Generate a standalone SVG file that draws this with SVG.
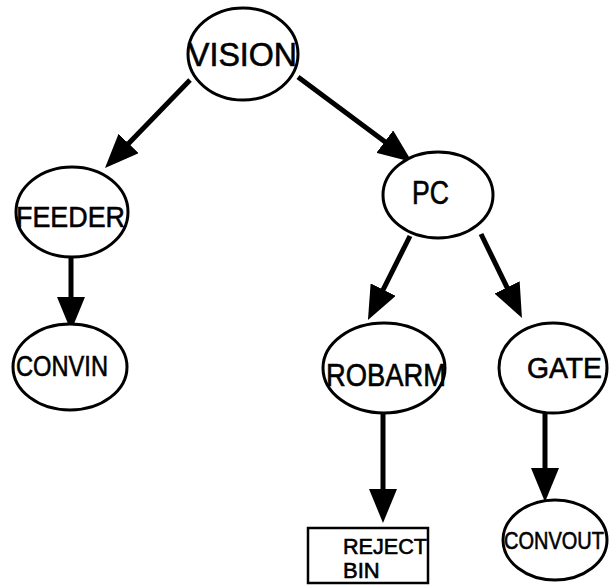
<svg xmlns="http://www.w3.org/2000/svg" width="610" height="585" viewBox="0 0 610 585">
  <style>
    .node { fill: #fff; stroke: #000; stroke-width: 3; }
    .box { fill: #fff; stroke: #000; stroke-width: 2.5; }
    .lbl { font-family: "Liberation Sans", Arial, Helvetica, sans-serif; fill: #000; stroke: #000; stroke-width: 0.6; }
    .edge { stroke: #000; stroke-width: 5; fill: none; marker-end: url(#head); }
  </style>
  <defs>
    <marker id="head" markerUnits="userSpaceOnUse" markerWidth="34" markerHeight="28" refX="14" refY="14" orient="auto">
      <path d="M0,0 L34,14 L0,28 z" fill="#000"/>
    </marker>
  </defs>

  <rect width="610" height="585" fill="#fff"/>

  <g id="connectors">
    <line class="edge" x1="190" y1="80" x2="118.9" y2="153.6"/>
    <line class="edge" x1="298" y1="77" x2="396" y2="150"/>
    <line class="edge" x1="71" y1="258" x2="71" y2="311"/>
    <line class="edge" x1="410" y1="236" x2="376.9" y2="302.1"/>
    <line class="edge" x1="481" y1="234" x2="513.2" y2="300"/>
    <line class="edge" x1="383" y1="413" x2="383" y2="503"/>
    <line class="edge" x1="545" y1="413" x2="545" y2="482"/>
  </g>

  <g id="vision">
    <ellipse class="node" cx="243" cy="54" rx="55" ry="46"/>
    <text class="lbl" x="188" y="66" font-size="33" textLength="109" lengthAdjust="spacingAndGlyphs">VISION</text>
  </g>

  <g id="feeder">
    <ellipse class="node" cx="72" cy="212" rx="56" ry="45"/>
    <text class="lbl" x="16" y="227" font-size="30" textLength="109" lengthAdjust="spacingAndGlyphs">FEEDER</text>
  </g>

  <g id="pc">
    <ellipse class="node" cx="438" cy="195" rx="55" ry="43"/>
    <text class="lbl" x="412" y="204" font-size="33" textLength="37" lengthAdjust="spacingAndGlyphs">PC</text>
  </g>

  <g id="convin">
    <ellipse class="node" cx="70" cy="367" rx="57" ry="43"/>
    <text class="lbl" x="16" y="376" font-size="29" textLength="92" lengthAdjust="spacingAndGlyphs">CONVIN</text>
  </g>

  <g id="robarm">
    <ellipse class="node" cx="384" cy="368" rx="61" ry="45"/>
    <text class="lbl" x="326" y="386" font-size="31" textLength="120" lengthAdjust="spacingAndGlyphs">ROBARM</text>
  </g>

  <g id="gate">
    <ellipse class="node" cx="553" cy="368" rx="54" ry="45"/>
    <text class="lbl" x="527" y="378" font-size="29" textLength="75" lengthAdjust="spacingAndGlyphs">GATE</text>
  </g>

  <g id="reject-bin">
    <rect class="box" x="308" y="528" width="120" height="55"/>
    <text class="lbl" x="343" y="554" font-size="22" textLength="84" lengthAdjust="spacingAndGlyphs">REJECT</text>
    <text class="lbl" x="343" y="578" font-size="22">BIN</text>
  </g>

  <g id="convout">
    <ellipse class="node" cx="555" cy="540" rx="52" ry="40"/>
    <text class="lbl" x="504" y="549" font-size="24" textLength="100" lengthAdjust="spacingAndGlyphs">CONVOUT</text>
  </g>
</svg>
